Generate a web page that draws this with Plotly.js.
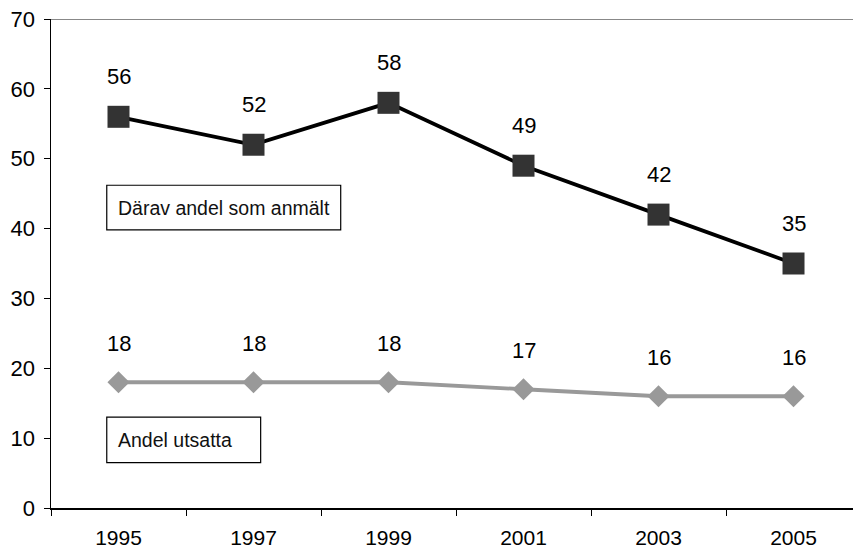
<!DOCTYPE html>
<html>
<head>
<meta charset="utf-8">
<script src="https://cdn.plot.ly/plotly-3.0.1.min.js"></script>
<style>html,body{margin:0;padding:0;background:#fff;}#chart{width:853px;height:552px;}</style>
</head>
<body>
<div id="chart"></div>
<script>
var years = ["1995", "1997", "1999", "2001", "2003", "2005"];
var anmalt = [56, 52, 58, 49, 42, 35];
var utsatta = [18, 18, 18, 17, 16, 16];
var anmaltLabel = "Därav andel som anmält";
var utsattaLabel = "Andel utsatta";
var yTicks = [0, 10, 20, 30, 40, 50, 60, 70];

var FONT = "Liberation Sans, Arial, Helvetica, sans-serif";

var traces = [
  {
    x: years, y: anmalt, type: "scatter", mode: "lines+markers",
    line: {color: "#000000", width: 3.8},
    marker: {symbol: "square", size: 22, color: "#333333"},
    showlegend: false, hoverinfo: "skip"
  },
  {
    x: years, y: utsatta, type: "scatter", mode: "lines+markers",
    line: {color: "#999999", width: 3.8},
    marker: {symbol: "diamond", size: 17, color: "#999999"},
    showlegend: false, hoverinfo: "skip"
  }
];

var annotations = [];
years.forEach(function (yr, i) {
  annotations.push({x: i, y: anmalt[i], xref: "x", yref: "y", text: String(anmalt[i]),
    showarrow: false, yshift: 40, font: {family: FONT, size: 22, color: "#000"}});
  annotations.push({x: i, y: utsatta[i], xref: "x", yref: "y", text: String(utsatta[i]),
    showarrow: false, yshift: 39, font: {family: FONT, size: 22, color: "#000"}});
});
annotations.push({x: -0.02, y: 43, xref: "x", yref: "y", xanchor: "left", yanchor: "middle",
  text: anmaltLabel, showarrow: false, font: {family: FONT, size: 19.5, color: "#111"}});
annotations.push({x: -0.02, y: 9.75, xref: "x", yref: "y", xanchor: "left", yanchor: "middle",
  text: utsattaLabel, showarrow: false, font: {family: FONT, size: 19.5, color: "#111"}});

var shapes = [
  {type: "rect", xref: "x", yref: "y", x0: -0.087, x1: 1.646, y0: 39.8, y1: 46.2,
   line: {color: "#000", width: 1.2}, fillcolor: "rgba(0,0,0,0)"},
  {type: "rect", xref: "x", yref: "y", x0: -0.087, x1: 1.053, y0: 6.5, y1: 13.0,
   line: {color: "#000", width: 1.2}, fillcolor: "rgba(0,0,0,0)"},
  {type: "line", xref: "paper", yref: "y", x0: 0, x1: 1, y0: 70, y1: 70,
   line: {color: "#888888", width: 2}}
];

var layout = {
  width: 853, height: 552,
  margin: {l: 51, r: 0, t: 19, b: 44, pad: 0},
  paper_bgcolor: "#fff", plot_bgcolor: "#fff",
  font: {family: FONT, size: 22, color: "#000"},
  xaxis: {
    type: "category", range: [-0.5, 5.4407], tickson: "boundaries",
    ticks: "outside", ticklen: 6, tickcolor: "#000", tickwidth: 1,
    showline: true, linecolor: "#000", linewidth: 1.5,
    showgrid: false, zeroline: false, fixedrange: true,
    ticklabelstandoff: 10,
    tickfont: {family: FONT, size: 21, color: "#000"}
  },
  yaxis: {
    range: [0, 70], tickvals: yTicks, ticktext: yTicks.map(String),
    ticks: "outside", ticklen: 6, tickcolor: "#000", tickwidth: 1,
    showline: true, linecolor: "#000", linewidth: 1.5,
    showgrid: false, zeroline: false, fixedrange: true,
    ticklabelstandoff: 4,
    tickfont: {family: FONT, size: 22, color: "#000"}
  },
  annotations: annotations,
  shapes: shapes
};

Plotly.newPlot("chart", traces, layout, {displayModeBar: false, staticPlot: true});
</script>
</body>
</html>
